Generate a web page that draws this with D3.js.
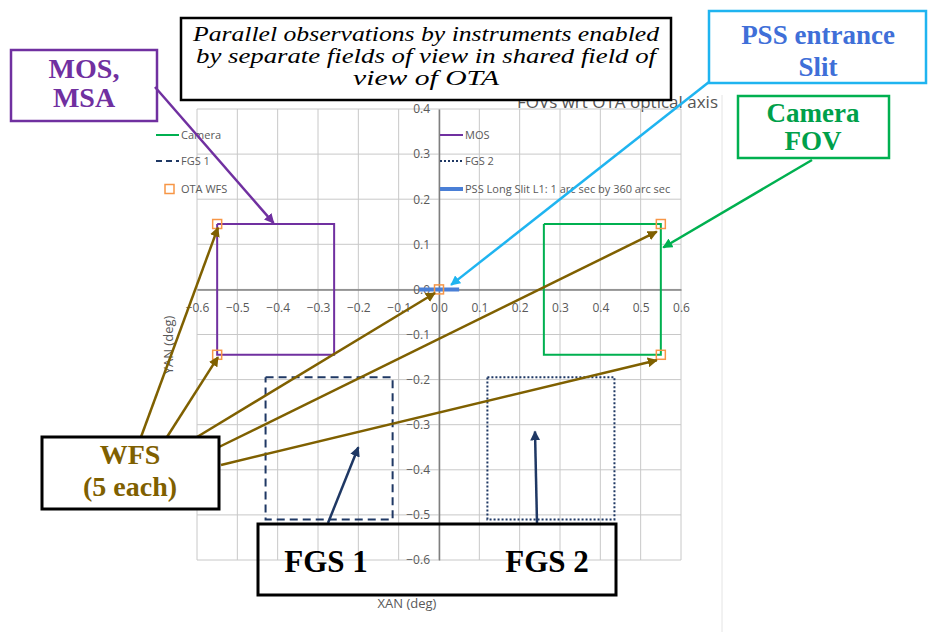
<!DOCTYPE html>
<html><head><meta charset="utf-8">
<script src="https://cdn.jsdelivr.net/npm/d3@7"></script>
<style>body{margin:0;background:#fff}svg{display:block}</style>
</head><body>
<svg id="c" width="929" height="632"></svg>
<script>
// ---- data ----
const xTicks = [-0.6,-0.5,-0.4,-0.3,-0.2,-0.1,0.0,0.1,0.2,0.3,0.4,0.5,0.6];
const yTicks = [0.4,0.3,0.2,0.1,0.0,-0.1,-0.2,-0.3,-0.4,-0.5,-0.6];
const mosX = [-0.55,-0.26,-0.26,-0.55,-0.55];
const mosY = [0.145,0.145,-0.145,-0.145,0.145];
const cameraX = [0.26,0.55,0.55,0.26,0.26];
const cameraY = [0.145,0.145,-0.145,-0.145,0.145];
const fgs1X = [-0.43,-0.115,-0.115,-0.43,-0.43];
const fgs1Y = [-0.195,-0.195,-0.51,-0.51,-0.195];
const fgs2X = [0.12,0.435,0.435,0.12,0.12];
const fgs2Y = [-0.195,-0.195,-0.51,-0.51,-0.195];
const pssX = [-0.05,0.05];
const pssY = [0,0];
const wfsX = [-0.55,-0.55,0.55,0.55,0.0];
const wfsY = [0.145,-0.145,0.145,-0.145,0.0];

const svg = d3.select("#c");
const x = d3.scaleLinear().domain([-0.6,0.6]).range([197,681]);
const y = d3.scaleLinear().domain([-0.6,0.4]).range([560,109]);
const fmt = d3.format(".1f");
const gray = "#595959";
const sans = "'Open Sans', 'Liberation Sans', sans-serif";
const serif = "'Liberation Serif', 'DejaVu Serif', serif";

// faint chart-area edge
svg.append("line").attr("x1",722).attr("x2",722).attr("y1",95).attr("y2",632)
  .attr("stroke","#e4e4e4").attr("stroke-width",1);

// chart title (partly hidden by box)
svg.append("text").attr("x",517).attr("y",108).attr("font-family",sans)
  .attr("font-size",17).attr("fill","#555").attr("textLength",201)
  .attr("lengthAdjust","spacingAndGlyphs").text("FOVs wrt OTA optical axis");

// grid
const grid = svg.append("g");
grid.selectAll(".gx").data(xTicks).join("line")
  .attr("x1",d=>x(d)).attr("x2",d=>x(d)).attr("y1",y(0.4)).attr("y2",y(-0.6))
  .attr("stroke","#c8c8c8").attr("stroke-width",1);
grid.selectAll(".gy").data(yTicks).join("line")
  .attr("x1",x(-0.6)).attr("x2",x(0.6)).attr("y1",d=>y(d)).attr("y2",d=>y(d))
  .attr("stroke","#c8c8c8").attr("stroke-width",1);

// axes through origin
const xAxis = svg.append("g").attr("transform",`translate(0,${y(0)})`)
  .call(d3.axisBottom(x).tickValues(xTicks).tickFormat(fmt).tickSize(0).tickPadding(14));
const yAxis = svg.append("g").attr("transform",`translate(${x(0)},0)`)
  .call(d3.axisLeft(y).tickValues(yTicks).tickFormat(fmt).tickSize(0).tickPadding(9));
[xAxis,yAxis].forEach(a=>{
  a.select(".domain").attr("stroke","#7f7f7f").attr("stroke-width",1.5);
  a.selectAll("text").attr("font-family",sans).attr("font-size",12).attr("fill",gray);
});

// axis titles
svg.append("text").attr("x",407).attr("y",608).attr("text-anchor","middle")
  .attr("font-family",sans).attr("font-size",13).attr("fill",gray).text("XAN (deg)");
svg.append("text").attr("transform","translate(173,345) rotate(-90)").attr("text-anchor","middle")
  .attr("font-family",sans).attr("font-size",13).attr("fill",gray).text("YAN (deg)");

// series
const line = d3.line().x(d=>x(d[0])).y(d=>y(d[1]));
const zip = (a,b)=>a.map((v,i)=>[v,b[i]]);
const series = [
  {xs:mosX, ys:mosY, color:"#7030a0", w:2, dash:null},
  {xs:cameraX, ys:cameraY, color:"#00b050", w:2, dash:null},
  {xs:fgs1X, ys:fgs1Y, color:"#1f3864", w:2, dash:"8,5"},
  {xs:fgs2X, ys:fgs2Y, color:"#1f3864", w:2, dash:"2,2"},
  {xs:pssX, ys:pssY, color:"#4a7fd6", w:4, dash:null}
];
series.forEach(s=>{
  svg.append("path").attr("d",line(zip(s.xs,s.ys))).attr("fill","none")
    .attr("stroke",s.color).attr("stroke-width",s.w).attr("stroke-dasharray",s.dash);
});
svg.selectAll(".wfs").data(zip(wfsX,wfsY)).join("rect")
  .attr("x",d=>x(d[0])-4.5).attr("y",d=>y(d[1])-4.5).attr("width",9).attr("height",9)
  .attr("fill","none").attr("stroke","#f79646").attr("stroke-width",1.5);

// legend
const legL = [
  {t:"Camera", c:"#00b050", dash:null, w:2, y:135},
  {t:"FGS 1", c:"#1f3864", dash:"6,4", w:2, y:161},
  {t:"OTA WFS", c:"#f79646", sq:true, y:189}
];
const legR = [
  {t:"MOS", c:"#7030a0", dash:null, w:2, y:135},
  {t:"FGS 2", c:"#1f3864", dash:"2,2", w:2, y:161},
  {t:"PSS Long Slit L1: 1 arc sec by 360 arc sec", c:"#4a7fd6", dash:null, w:4, y:189}
];
function legend(items, x0){
  items.forEach(it=>{
    if(it.sq){
      svg.append("rect").attr("x",x0+9).attr("y",it.y-4.5).attr("width",9).attr("height",9)
        .attr("fill","none").attr("stroke",it.c).attr("stroke-width",1.5);
    } else {
      svg.append("line").attr("x1",x0).attr("x2",x0+23).attr("y1",it.y).attr("y2",it.y)
        .attr("stroke",it.c).attr("stroke-width",it.w).attr("stroke-dasharray",it.dash);
    }
    svg.append("text").attr("x",x0+25).attr("y",it.y+4).attr("font-family",sans)
      .attr("font-size",11).attr("fill",gray).text(it.t);
  });
}
legend(legL,156);
legend(legR,440);

// title box
svg.append("rect").attr("x",181).attr("y",18).attr("width",490).attr("height",82)
  .attr("fill","#fff").attr("stroke","#000").attr("stroke-width",2.5);
const tLines = ["Parallel observations by instruments enabled",
  "by separate fields of view in shared field of","view of OTA"];
const tLen = [466,460,146];
tLines.forEach((t,i)=>{
  svg.append("text").attr("x",426).attr("y",41+i*22).attr("text-anchor","middle")
    .attr("font-family",serif).attr("font-style","italic").attr("font-size",21)
    .attr("textLength",tLen[i]).attr("lengthAdjust","spacingAndGlyphs").attr("fill","#000").text(t);
});

// callout boxes
function callout(bx,by,bw,bh,stroke,sw,lines,color,size,cx,ys,fill){
  svg.append("rect").attr("x",bx).attr("y",by).attr("width",bw).attr("height",bh)
    .attr("fill",fill||"none").attr("stroke",stroke).attr("stroke-width",sw);
  lines.forEach((t,i)=>{
    svg.append("text").attr("x",cx).attr("y",ys[i]).attr("text-anchor","middle")
      .attr("font-family",serif).attr("font-weight","bold").attr("font-size",size)
      .attr("fill",color).text(t);
  });
}
callout(709,11,217,72,"#1fb4f0",2.5,["PSS entrance","Slit"],"#3f6fd8",27,818,[44,76],"#fff");
callout(738,96,151,62,"#00b050",2.5,["Camera","FOV"],"#00a04a",27,813,[122,150],"#fff");
callout(11,50,146,71,"#7030a0",2.5,["MOS,","MSA"],"#7030a0",28,84,[78,107],"#fff");

// arrows
const defs = svg.append("defs");
function marker(id,color){
  defs.append("marker").attr("id",id).attr("viewBox","0 0 10 10").attr("refX",9).attr("refY",5)
    .attr("markerWidth",4).attr("markerHeight",4).attr("orient","auto")
    .append("path").attr("d","M0,0L10,5L0,10z").attr("fill",color);
}
marker("aOl","#7f6000"); marker("aPu","#7030a0"); marker("aBl","#1fb4f0");
marker("aGr","#00b050"); marker("aNv","#1f3864");
function arrow(x1,y1,x2,y2,color,w,m){
  svg.append("line").attr("x1",x1).attr("y1",y1).attr("x2",x2).attr("y2",y2)
    .attr("stroke",color).attr("stroke-width",w).attr("marker-end",`url(#${m})`);
}
arrow(155,87,x(-0.41),y(0.147),"#7030a0",2.5,"aPu");
arrow(709,82,x(0.03),y(0.01),"#1fb4f0",2.5,"aBl");
arrow(812,160,x(0.556),y(0.093),"#00b050",2.5,"aGr");
arrow(328,523,x(-0.2),y(-0.35),"#1f3864",2.5,"aNv");
arrow(537,523,x(0.238),y(-0.315),"#1f3864",2.5,"aNv");
const wfsStarts = [[141,437],[167,437],[197,437],[219,447],[221,465]];
const wfsEnds = [[-0.548,0.137],[-0.548,-0.15],[-0.01,-0.008],[0.54,0.128],[0.54,-0.157]];
wfsStarts.forEach((s,i)=>arrow(s[0],s[1],x(wfsEnds[i][0]),y(wfsEnds[i][1]),"#7f6000",2.5,"aOl"));

// WFS box & FGS box
callout(42,437,177,72,"#000",3,["WFS","(5 each)"],"#7f6000",28,130,[464,496],"#fff");
callout(258,524,358,71,"#000",3,[],"#000",31,0,[],null);
svg.append("text").attr("x",326).attr("y",572).attr("text-anchor","middle").attr("font-family",serif)
  .attr("font-weight","bold").attr("font-size",31).attr("fill","#000").text("FGS 1");
svg.append("text").attr("x",547).attr("y",572).attr("text-anchor","middle").attr("font-family",serif)
  .attr("font-weight","bold").attr("font-size",31).attr("fill","#000").text("FGS 2");
</script>
</body></html>
